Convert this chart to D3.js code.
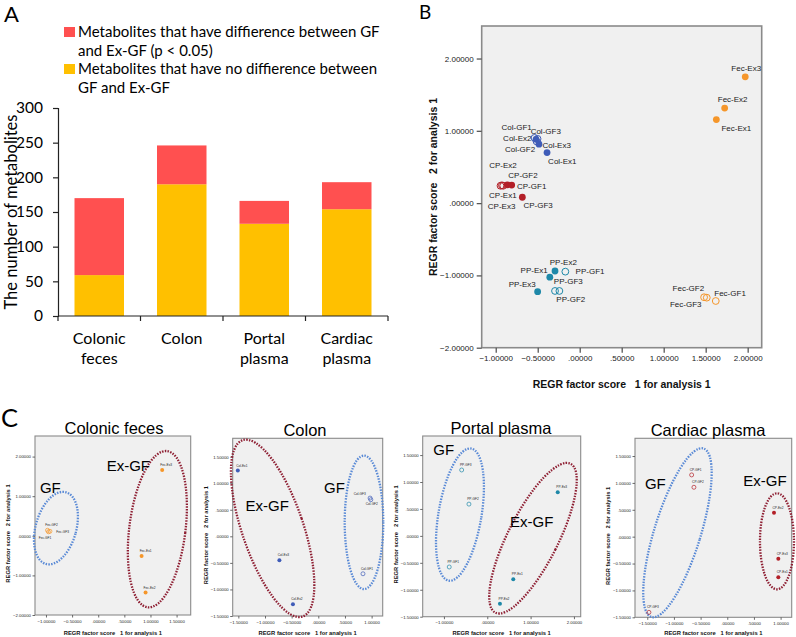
<!DOCTYPE html>
<html><head><meta charset="utf-8">
<script src="https://cdn.jsdelivr.net/npm/d3@7"></script>
<style>body{margin:0;background:#fff}text{white-space:pre}</style>
</head><body><svg id="c" width="796" height="637" xmlns="http://www.w3.org/2000/svg"></svg>
<script>
// ---------------- Panel A data ----------------
const categoryKeys = ["Colonic feces", "Colon", "Portal plasma", "Cardiac plasma"];
const categoryLines = [["Colonic", "feces"], ["Colon"], ["Portal", "plasma"], ["Cardiac", "plasma"]];
const noDiffCounts = [59, 190, 133, 154];
const diffCounts = [111, 56, 33, 39];
const yTicksA = [0, 50, 100, 150, 200, 250, 300];
const legendDiff = ["Metabolites that have diffierence between GF", "and Ex-GF (p < 0.05)"];
const legendNoDiff = ["Metabolites that have no diffierence between", "GF and Ex-GF"];

// ---------------- Panel B data ----------------
const bNames = ["Fec-Ex3","Fec-Ex2","Fec-Ex1","Fec-GF2","Fec-GF3","Fec-GF1",
  "Col-GF1","Col-Ex2","Col-GF3","Col-GF2","Col-Ex3","Col-Ex1",
  "CP-Ex1","CP-Ex2","CP-Ex3","CP-GF2","CP-GF1","CP-GF3",
  "PP-Ex2","PP-GF1","PP-Ex1","PP-GF3","PP-Ex3","PP-GF2"];
const bX = [1.971,1.726,1.627,1.481,1.513,1.620,
  -0.538,-0.520,-0.502,-0.514,-0.485,-0.389,
  -0.943,-0.926,-0.911,-0.862,-0.810,-0.683,
  -0.294,-0.171,-0.356,-0.294,-0.501,-0.242];
const bY = [1.747,1.314,1.156,-1.302,-1.308,-1.354,
  0.902,0.882,0.889,0.854,0.815,0.699,
  0.240,0.246,0.240,0.253,0.249,0.081,
  -0.939,-0.948,-1.025,-1.215,-1.225,-1.215];
const bFilled = [1,1,1,0,0,0, 0,1,0,0,1,1, 0,0,0,1,1,1, 1,0,1,0,1,0];
const bXTicks = [-1, -0.5, 0, 0.5, 1, 1.5, 2];
const bYTicks = [-2, -1, 0, 1, 2];

// ---------------- Panel C data ----------------
const c1Names = ["Fec-Ex3","Fec-Ex1","Fec-Ex2","Fec-GF2","Fec-GF3","Fec-GF1"];
const c1X = [1.224, 0.830, 0.906, -0.971, -0.924, -0.952];
const c1Y = [1.662, -0.510, -1.434, 0.139, 0.114, 0.101];
const c2Names = ["Col-Ex1","Col-Ex3","Col-Ex2","Col-GF3","Col-GF2","Col-GF1"];
const c2X = [-1.510, -0.730, -0.476, 0.971, 0.985, 0.838];
const c2Y = [1.238, -0.450, -1.281, 0.720, 0.689, -0.705];
const c3Names = ["PP-GF3","PP-GF2","PP-GF1","PP-Ex3","PP-Ex1","PP-Ex2"];
const c3X = [-0.591, -0.423, -0.878, 1.626, 0.600, 0.293];
const c3Y = [1.223, 0.590, -0.577, 0.808, -0.806, -1.259];
const c4Names = ["CP-GF1","CP-GF2","CP-GF3","CP-Ex2","CP-Ex3","CP-Ex1"];
const c4X = [-0.668, -0.625, -1.469, 0.876, 0.957, 0.957];
const c4Y = [1.149, 0.919, -1.408, 0.447, -0.410, -0.756];
const cTitles = ["Colonic feces", "Colon", "Portal plasma", "Cardiac plasma"];
const c1XTicks = [-1, -0.5, 0, 0.5, 1, 1.5], c1YTicks = [-2, -1, 0, 1, 2];
const c2XTicks = [-1.5, -1, -0.5, 0, 0.5, 1], c2YTicks = [-1.5, -1, -0.5, 0, 0.5, 1, 1.5];
const c3XTicks = [-1, 0, 1, 2], c3YTicks = [-1.5, -1, -0.5, 0, 0.5, 1, 1.5];
const c4XTicks = [-1.5, -1, -0.5, 0, 0.5, 1], c4YTicks = [-1.5, -1, -0.5, 0, 0.5, 1, 1.5];
// group ellipses: centre in data units
const c1Groups = [{name:"GF", cx:-0.809, cy:0.194, type:"GF"}, {name:"Ex-GF", cx:1.132, cy:0.167, type:"Ex"}];
const c2Groups = [{name:"Ex-GF", cx:-0.857, cy:0.150, type:"Ex"}, {name:"GF", cx:0.857, cy:0.263, type:"GF"}];
const c3Groups = [{name:"GF", cx:-0.630, cy:0.395, type:"GF"}, {name:"Ex-GF", cx:1.055, cy:-0.043, type:"Ex"}];
const c4Groups = [{name:"GF", cx:-0.934, cy:0.073, type:"GF"}, {name:"Ex-GF", cx:0.932, cy:-0.086, type:"Ex"}];
// group text anchors (data units), same order as the groups
const c1GroupText = [[-1.115, 1.073], [0.161, 1.636]];
const c2GroupText = [[-1.364, 0.469], [0.109, 0.820]];
const c3GroupText = [[-1.247, 1.503], [0.524, 0.168]];
const c4GroupText = [[-1.544, 0.883], [0.300, 0.950]];

// ---------------- layout / style (not data) ----------------
const FA = "Lato, 'Open Sans', sans-serif";
const FS = "'Liberation Sans', Arial, sans-serif";
const colRed = "#FF5050", colYel = "#FFC000";
const groupColor = {Fec:"#F5962A", Col:"#3F5CB8", CP:"#B31F27", PP:"#1E88A8"};
const bLabelOff = {
  "Fec-Ex3":[1,-9],"Fec-Ex2":[8,-9],"Fec-Ex1":[20,8.6],"Fec-GF2":[-15.7,-8.6],"Fec-GF3":[-21,6.6],"Fec-GF1":[14.3,-7.7],
  "Col-GF1":[-17.8,-10.7],"Col-Ex2":[-18.7,-0.8],"Col-GF3":[8.2,-7.7],"Col-GF2":[-16.5,8.2],"Col-Ex3":[17.7,1],"Col-Ex1":[15.3,8.3],
  "CP-Ex1":[2.3,9],"CP-Ex2":[1,-19.8],"CP-Ex3":[-1.6,20],"CP-GF2":[15.7,-9.3],"CP-GF1":[20,1.4],"CP-GF3":[15.7,7.7],
  "PP-Ex2":[8.3,-8.3],"PP-GF1":[24.7,0],"PP-Ex1":[-15.7,-7.3],"PP-GF3":[13.3,-9.3],"PP-Ex3":[-15.4,-7],"PP-GF2":[11.4,8.3]};
const cLabelOff = {"Fec-GF3":[12.7,0.3],"Fec-GF1":[-3.5,5.8],"Col-GF3":[-10.3,-4.3],"Col-GF2":[1,4]};
// ellipse radii (px) and tilt (deg), same order as the groups
const ellShape = {
  c1:[[20.3,37.2,15.7],[28.1,78.7,7.1]],
  c2:[[30.6,93.1,-18.8],[19.3,66.7,0]],
  c3:[[21.5,67,9.6],[25.1,83.4,26.8]],
  c4:[[23.2,88.2,17.2],[17,48,0]]};

const svg = d3.select("#c");

// ================= Panel A =================
svg.append("text").attr("x", 4).attr("y", 21.8).attr("font-family", FA).attr("font-size", 22).attr("fill", "#000").text("A");
const xA = d3.scaleBand().domain(categoryKeys).range([58, 388]).paddingInner(0.4).paddingOuter(0.2);
const yA = d3.scaleLinear().domain([0, 300]).range([316, 108]);
const gA = svg.append("g");
const stackData = categoryKeys.map((k, i) => ({key: k, no: noDiffCounts[i], diff: diffCounts[i]}));
const stacks = d3.stack().keys(["no", "diff"])(stackData);
const stackCol = [colYel, colRed];
stacks.forEach((s, si) => {
  gA.append("g").selectAll("rect").data(s).join("rect")
    .attr("x", d => xA(d.data.key)).attr("width", xA.bandwidth())
    .attr("y", d => yA(d[1])).attr("height", d => yA(d[0]) - yA(d[1]))
    .attr("fill", stackCol[si]);
});
// y axis
const yAx = gA.append("g").attr("transform", "translate(58,0)")
  .call(d3.axisLeft(yA).tickValues(yTicksA).tickSize(5).tickPadding(10));
yAx.select(".domain").attr("stroke", "#222").attr("stroke-width", 1.2);
yAx.selectAll(".tick line").attr("stroke", "#222").attr("stroke-width", 1.2);
yAx.selectAll(".tick text").attr("font-family", FA).attr("font-size", 15.5).attr("fill", "#000");
// x axis
const xAx = gA.append("g").attr("transform", "translate(0,316)");
xAx.append("line").attr("x1", 58).attr("x2", 388).attr("stroke", "#222").attr("stroke-width", 1.2);
d3.range(categoryKeys.length + 1).forEach(i => {
  const xx = 58 + i * xA.step();
  xAx.append("line").attr("x1", xx).attr("x2", xx).attr("y1", 0).attr("y2", 5).attr("stroke", "#222").attr("stroke-width", 1.2);
});
categoryKeys.forEach((k, i) => {
  categoryLines[i].forEach((ln, j) => {
    gA.append("text").attr("x", xA(k) + xA.bandwidth() / 2).attr("y", 344 + j * 19.5)
      .attr("text-anchor", "middle").attr("font-family", FA).attr("font-size", 16).attr("fill", "#000").text(ln);
  });
});
gA.append("text").attr("transform", "translate(17,212) rotate(-90)").attr("text-anchor", "middle")
  .attr("font-family", FA).attr("font-size", 16.5).attr("fill", "#000").text("The number of metabolites");
// legend
[[legendDiff, colRed, 27], [legendNoDiff, colYel, 64]].forEach(([lines, c, ty]) => {
  gA.append("rect").attr("x", 64).attr("y", ty).attr("width", 11).attr("height", 10).attr("fill", c);
  lines.forEach((ln, j) => {
    gA.append("text").attr("x", 78).attr("y", ty + 10 + j * 19).attr("font-family", FA).attr("font-size", 15)
      .attr("fill", "#000").text(ln);
  });
});

// ================= scatter helper =================
function fmtSPSS(v) { return d3.format(".5f")(v).replace(/^(-?)0\./, "$1."); }
function scatter(o) {
  const x = d3.scaleLinear().domain(o.xDomain).range([o.left, o.right]);
  const y = d3.scaleLinear().domain(o.yDomain).range([o.bottom, o.top]);
  const g = svg.append("g");
  g.append("rect").attr("x", o.left).attr("y", o.top).attr("width", o.right - o.left).attr("height", o.bottom - o.top)
    .attr("fill", "#F0F0F0").attr("stroke", "#8A8A8A").attr("stroke-width", o.frameW);
  const ya = g.append("g").attr("transform", `translate(${o.left},0)`)
    .call(d3.axisLeft(y).tickValues(o.yTicks).tickSize(o.tickLen).tickPadding(o.tickPad).tickFormat(fmtSPSS));
  const xa = g.append("g").attr("transform", `translate(0,${o.bottom})`)
    .call(d3.axisBottom(x).tickValues(o.xTicks).tickSize(o.tickLen).tickPadding(o.tickPadX).tickFormat(fmtSPSS));
  [ya, xa].forEach(a => {
    a.select(".domain").remove();
    a.selectAll(".tick line").attr("stroke", "#555").attr("stroke-width", o.frameW * 0.8);
    a.selectAll(".tick text").attr("font-family", FS).attr("font-size", o.tickFont).attr("fill", "#222");
  });
  g.append("text").attr("x", (o.left + o.right) / 2).attr("y", o.xTitleY).attr("text-anchor", "middle")
    .attr("font-family", FS).attr("font-weight", "bold").attr("font-size", o.titleFont).attr("fill", "#111")
    .text("REGR factor score   1 for analysis 1");
  g.append("text").attr("transform", `translate(${o.yTitleX},${o.yTitleCY}) rotate(-90)`).attr("text-anchor", "middle")
    .attr("dy", "0.35em").attr("font-family", FS).attr("font-weight", "bold").attr("font-size", o.titleFont).attr("fill", "#111")
    .text("REGR factor score   2 for analysis 1");
  return {x, y, g};
}
function drawPoints(p, names, xs, ys, filled, r, sw, lblFont, offs, defOff) {
  names.forEach((n, i) => {
    const col = groupColor[n.split("-")[0]];
    const px = p.x(xs[i]), py = p.y(ys[i]);
    p.g.append("circle").attr("cx", px).attr("cy", py).attr("r", r)
      .attr("fill", filled[i] ? col : "none").attr("stroke", col).attr("stroke-width", filled[i] ? 0 : sw);
  });
  names.forEach((n, i) => {
    const px = p.x(xs[i]), py = p.y(ys[i]);
    const off = offs[n] || defOff;
    p.g.append("text").attr("x", px + off[0]).attr("y", py + off[1]).attr("dy", "0.35em").attr("text-anchor", "middle")
      .attr("font-family", FS).attr("font-size", lblFont).attr("fill", "#222").text(n);
  });
}

// ================= Panel B =================
svg.append("text").attr("x", 419).attr("y", 19).attr("font-family", FA).attr("font-size", 19).attr("fill", "#000").text("B");
const pB = scatter({left: 481.7, right: 761.7, top: 26, bottom: 347.7, xDomain: [-1.167, 2.167], yDomain: [-2, 2.45],
  xTicks: bXTicks, yTicks: bYTicks, tickLen: 5, tickPad: 3, tickPadX: 3, tickFont: 8, frameW: 1.6,
  titleFont: 10.5, xTitleY: 388, yTitleX: 433, yTitleCY: 187});
drawPoints(pB, bNames, bX, bY, bFilled, 3.4, 1, 8, bLabelOff, [0, -9]);

// ================= Panel C =================
svg.append("text").attr("x", 1).attr("y", 427).attr("font-family", FA).attr("font-size", 25.5).attr("fill", "#000").text("C");
const cfgC = [
  {left: 35, right: 190.7, top: 436, bottom: 615, xDomain: [-1.21, 1.77], yDomain: [-2, 2.52], xTicks: c1XTicks, yTicks: c1YTicks,
   names: c1Names, xs: c1X, ys: c1Y, groups: c1Groups, gtext: c1GroupText, shape: ellShape.c1, titleX: 114},
  {left: 232.7, right: 382.7, top: 438.3, bottom: 616, xDomain: [-1.606, 1.208], yDomain: [-1.5, 1.845], xTicks: c2XTicks, yTicks: c2YTicks,
   names: c2Names, xs: c2X, ys: c2Y, groups: c2Groups, gtext: c2GroupText, shape: ellShape.c2, titleX: 305},
  {left: 422.7, right: 580.7, top: 436, bottom: 616.7, xDomain: [-1.49, 2.156], yDomain: [-1.5, 1.854], xTicks: c3XTicks, yTicks: c3YTicks,
   names: c3Names, xs: c3X, ys: c3Y, groups: c3Groups, gtext: c3GroupText, shape: ellShape.c3, titleX: 501},
  {left: 635, right: 791.7, top: 438.3, bottom: 617.3, xDomain: [-1.73, 1.208], yDomain: [-1.5, 1.83], xTicks: c4XTicks, yTicks: c4YTicks,
   names: c4Names, xs: c4X, ys: c4Y, groups: c4Groups, gtext: c4GroupText, shape: ellShape.c4, titleX: 708}
];
cfgC.forEach((c, k) => {
  const p = scatter(Object.assign({tickLen: 2.5, tickPad: 1.5, tickPadX: 2, tickFont: 4.3, frameW: 1.1, titleFont: 5.8,
    xTitleY: 635, yTitleX: c.left - 27, yTitleCY: (c.top + c.bottom) / 2 + 8}, c));
  svg.append("text").attr("x", c.titleX).attr("y", c.top - 2).attr("text-anchor", "middle").attr("font-family", FS)
    .attr("font-size", 16.5).attr("fill", "#000").text(cTitles[k]);
  c.groups.forEach((gr, j) => {
    const [rx, ry, ang] = c.shape[j];
    p.g.append("ellipse").attr("transform", `translate(${p.x(gr.cx)},${p.y(gr.cy)}) rotate(${ang})`)
      .attr("rx", rx).attr("ry", ry).attr("fill", "none")
      .attr("stroke", gr.type === "GF" ? "#5A8AD6" : "#8E1F33").attr("stroke-width", 2.3)
      .attr("stroke-dasharray", "1.5,1.3");
    p.g.append("text").attr("x", p.x(c.gtext[j][0])).attr("y", p.y(c.gtext[j][1])).attr("font-family", FS)
      .attr("font-size", 15).attr("fill", "#000").text(gr.name);
  });
  const filled = c.names.map(n => n.includes("-Ex") ? 1 : 0);
  drawPoints(p, c.names, c.xs, c.ys, filled, 2, 0.7, 3.2, cLabelOff, [4, -5]);
});
</script>
</body></html>
